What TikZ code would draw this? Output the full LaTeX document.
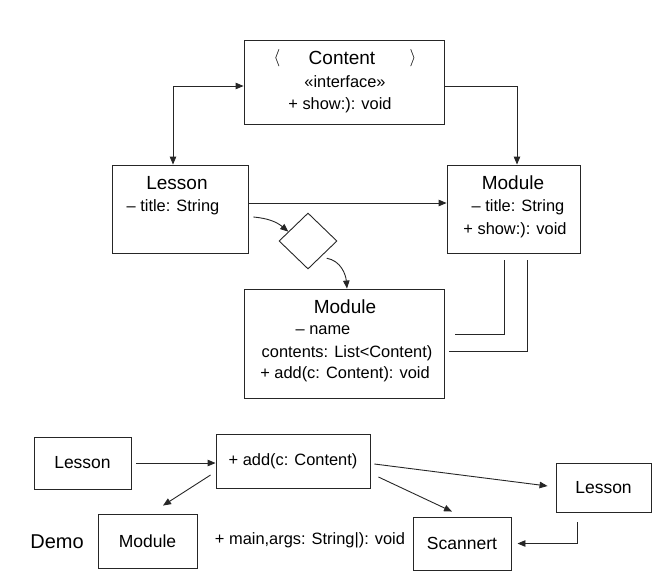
\documentclass[tikz,border=0pt]{standalone}
\usepackage{fontspec}
\setmainfont{Liberation Sans}
\usetikzlibrary{arrows.meta,positioning,shapes.geometric,calc}

\begin{document}
\begin{tikzpicture}[x=1pt,y=-1pt,line width=0.9pt,draw=black!85,
    box/.style={draw,rectangle,inner sep=0pt},
    ttl/.style={font=\fontsize{19}{21}\selectfont},
    lbl/.style={font=\fontsize{16.4}{18}\selectfont,inner sep=0pt},
    sml/.style={font=\fontsize{17.5}{19}\selectfont},
    arr/.style={-{Triangle[length=8pt,width=6.5pt]}},
    arrboth/.style={{Triangle[length=8pt,width=6.5pt]}-{Triangle[length=8pt,width=6.5pt]}}]
        \useasboundingbox (0,0) rectangle (668,584);
        \node [box,minimum width=200,minimum height=84] (content) at (344,82) {};
        \node [ttl] (lang) at (277,58) {$\langle$};
        \node [ttl] (contentname) at (342,58) {Content};
        \node [ttl] (rang) at (413,58) {$\rangle$};
        \node [lbl] (stereo) at (345,82) {«interface»};
        \node [lbl] (contentshow) at (340,105) {+ show:): void};
        \node [box,minimum width=136,minimum height=88] (lesup) at (180,209) {};
        \node [ttl] (lesupname) at (177,183) {Lesson};
        \node [lbl] (lesuptitle) at (173,207) {– title: String};
        \node [box,minimum width=133,minimum height=88] (modup) at (513.5,209) {};
        \node [ttl] (modupname) at (513,183) {Module};
        \node [lbl] (moduptitle) at (518,207) {– title: String};
        \node [lbl] (modupshow) at (515,230) {+ show:): void};
        \node [draw,diamond,inner sep=0pt,minimum width=58,minimum height=56] (dia) at (308,241) {};
        \node [box,minimum width=200,minimum height=109] (modlow) at (344,343.5) {};
        \node [ttl] (modlowname) at (345,307) {Module};
        \node [lbl] (modlowname2) at (323,330) {– name};
        \node [lbl] (modlowlist) at (347,353) {contents: List<Content)};
        \node [lbl] (modlowadd) at (345,374) {+ add(c: Content): void};
        \draw [arrboth] ([xshift=-7pt]lesup.north) |- ([yshift=-4pt]content.west);
        \draw [arr] ([yshift=-4pt]content.east) -| ([xshift=3.5pt]modup.north);
        \coordinate (lm) at ([yshift=6pt]lesup.east);
        \draw [arr] (lm) -- (lm -| modup.west);
        \draw [arr] ([xshift=5pt,yshift=-8pt]lesup.east) to [out=-5,in=140] ($(dia.west)!0.33!(dia.north)$);
        \draw [arr] ([xshift=4pt,yshift=-3pt]dia.south east) to [out=-10,in=95] ([xshift=3pt]modlow.north);
        \draw ([xshift=11pt,yshift=9.5pt]modlow.east) -| ([xshift=-9.5pt,yshift=-7pt]modup.south);
        \draw ([xshift=5pt,yshift=-7.5pt]modlow.east) -| ([xshift=13.5pt,yshift=-7pt]modup.south);
        \node [box,sml,minimum width=97,minimum height=52] (lesa) at (82.5,463) {Lesson};
        \node [box,lbl,minimum width=154,minimum height=54] (add) at (293,461) {+ add(c: Content)};
        \node [box,sml,minimum width=99,minimum height=54] (modb) at (147.5,541) {Module};
        \node [font=\fontsize{20}{22}\selectfont] (demo) at (57,542) {Demo};
        \node [lbl] (mainop) at (310,540) {+ main,args: String|): void};
        \node [box,sml,minimum width=98,minimum height=53] (scan) at (462,543.5) {Scannert};
        \node [box,sml,minimum width=95,minimum height=49] (lesb) at (603.5,487.5) {Lesson};
        \draw [arr,shorten <=5pt] (lesa.east) -- (lesa.east -| add.west);
        \draw [arr] ([xshift=-5pt,yshift=-14pt]add.west) -- ([xshift=15.5pt,yshift=8pt]modb.north);
        \draw [arr] ([xshift=4pt,yshift=-3pt]add.east) -- ([xshift=-8pt,yshift=1.5pt]lesb.west);
        \draw [arr] ([xshift=8pt,yshift=-16pt]add.east) -- ([xshift=-10pt,yshift=5pt]scan.north);
        \draw [arr] ([xshift=-26.5pt,yshift=-10pt]lesb.south) |- ([xshift=6pt]scan.east);
      \end{tikzpicture}
\end{document}
